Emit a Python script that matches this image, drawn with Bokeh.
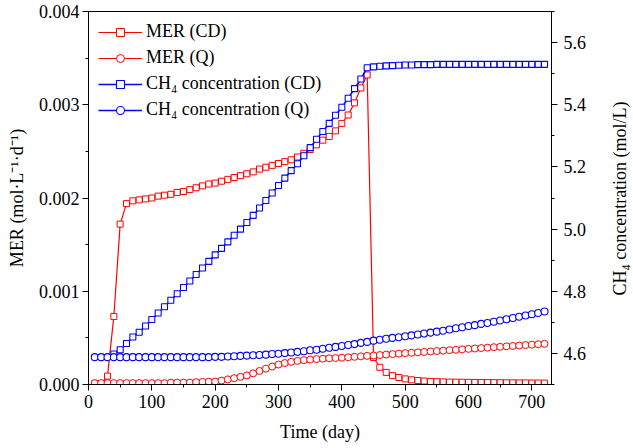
import math
from bokeh.plotting import figure
from bokeh.models import Range1d, LinearAxis, FixedTicker, NumeralTickFormatter, Legend, LegendItem, Label
from bokeh.embed import file_html
from bokeh.resources import INLINE

days = [10, 20, 30, 40, 50, 60, 70, 80, 90, 100, 110, 120, 130, 140, 150, 160, 170, 180,
        190, 200, 210, 220, 230, 240, 250, 260, 270, 280, 290, 300, 310, 320, 330, 340, 350,
        360, 370, 380, 390, 400, 410, 420, 430, 440, 450, 460, 470, 480, 490, 500, 510, 520,
        530, 540, 550, 560, 570, 580, 590, 600, 610, 620, 630, 640, 650, 660, 670, 680, 690,
        700, 710, 720]

mer_cd = [0.00001, 0.00001, 0.00009, 0.00073, 0.00172, 0.00194, 0.00197, 0.00198, 0.00199,
          0.00200, 0.00202, 0.00203, 0.00204, 0.00206, 0.00207, 0.00209, 0.00211, 0.00213,
          0.00215, 0.00216, 0.00218, 0.00220, 0.00222, 0.00224, 0.00226, 0.00228, 0.00231,
          0.00233, 0.00235, 0.00237, 0.00239, 0.00241, 0.00244, 0.00248, 0.00252, 0.00257,
          0.00262, 0.00266, 0.00272, 0.00280, 0.00289, 0.00302, 0.00318, 0.00332, 0.00029,
          0.000185, 0.00013, 0.000095, 0.000075, 0.00006, 0.00005, 0.000043, 0.000037,
          0.000033, 0.00003, 0.000028, 0.000026, 0.000025, 0.000024, 0.000023, 0.000022,
          0.000021, 0.00002, 0.00002, 0.000019, 0.000018, 0.000018, 0.000017, 0.000017,
          0.000016, 0.000016, 0.000015]

mer_q = [0.000015, 0.000015, 0.000015, 0.000015, 0.000015, 0.000015, 0.000015, 0.000015,
         0.000015, 0.000015, 0.000015, 0.000015, 0.00002, 0.00002, 0.00002, 0.00002,
         0.000025, 0.000028, 0.00003, 0.000032, 0.000042, 0.000055, 0.000068, 0.000082,
         0.000097, 0.00012, 0.000145, 0.00017, 0.000193, 0.000214, 0.00023, 0.000243,
         0.000253, 0.000261, 0.000267, 0.000273, 0.000277, 0.000281, 0.000284, 0.000287,
         0.000292, 0.000297, 0.000302, 0.000307, 0.000311, 0.000316, 0.000321, 0.000326,
         0.000331, 0.000336, 0.00034, 0.000345, 0.000349, 0.000354, 0.000359, 0.000363,
         0.000368, 0.000372, 0.000377, 0.000382, 0.000386, 0.000391, 0.000395, 0.0004,
         0.000404, 0.000409, 0.000413, 0.000418, 0.000423, 0.000427, 0.000432, 0.000436]

days_cd = days[3:]
ch4_cd = [4.598, 4.612, 4.632, 4.653, 4.668, 4.688, 4.709, 4.730, 4.750, 4.771, 4.792, 4.812,
          4.833, 4.854, 4.875, 4.896, 4.917, 4.938, 4.959, 4.980, 5.000, 5.021, 5.044, 5.068,
          5.092, 5.116, 5.140, 5.164, 5.188, 5.210, 5.236, 5.262, 5.289, 5.314, 5.340, 5.366,
          5.392, 5.421, 5.452, 5.483, 5.519, 5.522, 5.524, 5.525, 5.526, 5.527, 5.528, 5.528,
          5.529, 5.529, 5.529, 5.530, 5.530, 5.530, 5.530, 5.530, 5.530, 5.530, 5.530, 5.530,
          5.530, 5.530, 5.530, 5.530, 5.530, 5.530, 5.530, 5.530, 5.530]

ch4_q = [4.588, 4.588, 4.588, 4.588, 4.588, 4.588, 4.588, 4.588, 4.588, 4.588, 4.588, 4.588,
         4.588, 4.588, 4.588, 4.588, 4.588, 4.588, 4.588, 4.589, 4.589, 4.590, 4.591, 4.592,
         4.593, 4.594, 4.595, 4.596, 4.598, 4.599, 4.601, 4.603, 4.605, 4.607, 4.610, 4.612,
         4.615, 4.618, 4.621, 4.624, 4.627, 4.630, 4.634, 4.637, 4.641, 4.644, 4.647, 4.650,
         4.652, 4.655, 4.658, 4.661, 4.664, 4.667, 4.670, 4.673, 4.677, 4.681, 4.684, 4.688,
         4.691, 4.695, 4.698, 4.702, 4.706, 4.710, 4.714, 4.718, 4.722, 4.726, 4.730, 4.735]

x_ticks = [0, 100, 200, 300, 400, 500, 600, 700]
x_minor = [50, 150, 250, 350, 450, 550, 650]
left_ticks = [0.0, 0.001, 0.002, 0.003, 0.004]
left_minor = [0.0005, 0.0015, 0.0025, 0.0035]
right_ticks = [4.6, 4.8, 5.0, 5.2, 5.4, 5.6]
right_minor = [4.5, 4.7, 4.9, 5.1, 5.3, 5.5, 5.7]

RED = "#FF0000"
BLUE = "#0000FF"
FONT = "Liberation Serif"
FS = "18px"

p = figure(width=633, height=448, output_backend="svg", toolbar_location=None,
           x_range=Range1d(0, 731), y_range=Range1d(0, 0.004),
           min_border_left=88, min_border_right=82, min_border_top=11, min_border_bottom=64)
p.extra_y_ranges = {"ch4": Range1d(4.5, 5.7)}
p.xgrid.visible = False
p.ygrid.visible = False
p.outline_line_color = "black"
p.outline_line_width = 1
p.background_fill_color = "white"
p.border_fill_color = "white"

def style_axis(ax):
    ax.axis_line_color = "black"
    ax.major_tick_in = 0
    ax.major_tick_out = 6
    ax.minor_tick_in = 0
    ax.minor_tick_out = 3
    ax.major_label_text_font = FONT
    ax.major_label_text_font_size = FS
    ax.major_label_text_color = "black"
    ax.axis_label_text_font = FONT
    ax.axis_label_text_font_size = FS
    ax.axis_label_text_font_style = "normal"
    ax.axis_label_text_color = "black"

xa = p.xaxis[0]
xa.ticker = FixedTicker(ticks=x_ticks, minor_ticks=x_minor)
xa.axis_label = "Time (day)"
style_axis(xa)
xa.major_label_standoff = 4
xa.axis_label_standoff = 11

ya = p.yaxis[0]
ya.ticker = FixedTicker(ticks=left_ticks, minor_ticks=left_minor)
ya.formatter = NumeralTickFormatter(format="0.000")
ya.axis_label = "MER (mol·L⁻¹·d⁻¹)"
style_axis(ya)
ya.major_label_standoff = 3
ya.axis_label_standoff = 9

ra = LinearAxis(y_range_name="ch4")
ra.ticker = FixedTicker(ticks=right_ticks, minor_ticks=right_minor)
ra.formatter = NumeralTickFormatter(format="0.0")
style_axis(ra)
ra.major_label_standoff = 6
p.add_layout(ra, "right")

# right axis title, reading bottom-to-top like the reference (placed in the right side panel)
rlabel = Label(x=30, y=186, x_units="screen", y_units="screen",
               text="CH₄ concentration (mol/L)", angle=math.pi / 2,
               text_align="center", text_baseline="middle",
               text_font=FONT, text_font_size=FS, text_color="black")
p.add_layout(rlabel, "right")

l1 = p.line(days, mer_cd, line_color=RED, line_width=1.2)
m1 = p.scatter(days, mer_cd, marker="square", size=6, line_color=RED, fill_color="white", line_width=1)
l2 = p.line(days, mer_q, line_color=RED, line_width=1.2)
m2 = p.scatter(days, mer_q, marker="circle", size=7, line_color=RED, fill_color="white", line_width=1)
l3 = p.line(days_cd, ch4_cd, line_color=BLUE, line_width=1.6, y_range_name="ch4")
m3 = p.scatter(days_cd, ch4_cd, marker="square", size=6, line_color=BLUE, fill_color="white", line_width=1.1, y_range_name="ch4")
l4 = p.line(days, ch4_q, line_color=BLUE, line_width=1.6, y_range_name="ch4")
m4 = p.scatter(days, ch4_q, marker="circle", size=7, line_color=BLUE, fill_color="white", line_width=1.1, y_range_name="ch4")

legend = Legend(items=[
    LegendItem(label="MER (CD)", renderers=[l1, m1]),
    LegendItem(label="MER (Q)", renderers=[l2, m2]),
    LegendItem(label="CH₄ concentration (CD)", renderers=[l3, m3]),
    LegendItem(label="CH₄ concentration (Q)", renderers=[l4, m4]),
], location="top_left")
legend.border_line_color = None
legend.background_fill_alpha = 0
legend.margin = 10
legend.padding = 10
legend.spacing = 5
legend.glyph_width = 44
legend.glyph_height = 20
legend.label_height = 20
legend.label_standoff = 4
legend.label_text_font = FONT
legend.label_text_font_size = FS
legend.label_text_color = "black"
p.add_layout(legend, "center")

open("out.html", "w").write(file_html(p, INLINE))
